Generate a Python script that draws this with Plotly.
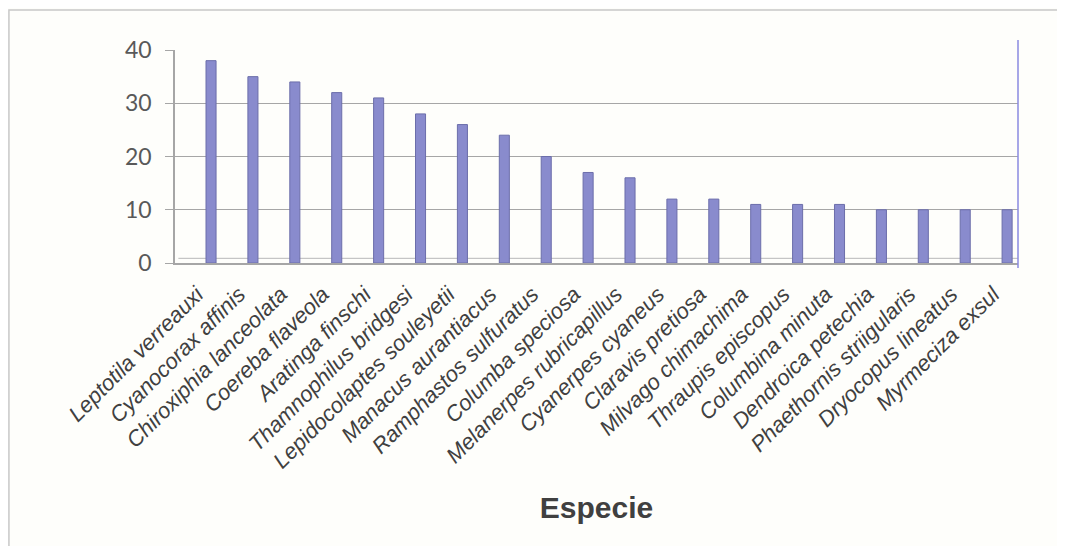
import plotly.graph_objects as go

species = [
    "Leptotila verreauxi", "Cyanocorax affinis", "Chiroxiphia lanceolata",
    "Coereba flaveola", "Aratinga finschi", "Thamnophilus bridgesi",
    "Lepidocolaptes souleyetii", "Manacus aurantiacus", "Ramphastos sulfuratus",
    "Columba speciosa", "Melanerpes rubricapillus", "Cyanerpes cyaneus",
    "Claravis pretiosa", "Milvago chimachima", "Thraupis episcopus",
    "Columbina minuta", "Dendroica petechia", "Phaethornis striigularis",
    "Dryocopus lineatus", "Myrmeciza exsul",
]
counts = [38, 35, 34, 32, 31, 28, 26, 24, 20, 17, 16, 12, 12, 11, 11, 11, 10, 10, 10, 10]
y_ticks = [0, 10, 20, 30, 40]
x_title = "Especie"

fig = go.Figure(
    go.Bar(
        x=species,
        y=counts,
        width=0.24,
        marker=dict(color="#898bcd", line=dict(color="#6c6eaa", width=1)),
    )
)

fig.update_layout(
    width=1057,
    height=538,
    margin=dict(l=167, r=47, t=42, b=283, autoexpand=False),
    paper_bgcolor="#fefefb",
    plot_bgcolor="#fefefb",
    showlegend=False,
    font=dict(family="Liberation Sans, Arial, sans-serif", color="#404040"),
    shapes=[
        dict(type="rect", xref="paper", yref="paper",
             x0=-0.197, x1=1.05, y0=-1.5, y1=1.188,
             line=dict(color="#c8c8c8", width=1.5), fillcolor="rgba(0,0,0,0)",
             layer="below"),
        dict(type="line", xref="paper", yref="paper",
             x0=1.0, x1=1.0, y0=-0.023, y1=1.047,
             line=dict(color="#8a8ae0", width=1.5)),
        dict(type="line", xref="paper", yref="paper",
             x0=0.004, x1=1.0, y0=0.022, y1=0.022,
             line=dict(color="#b8b8b8", width=1), layer="below"),
    ],
)

fig.update_xaxes(
    type="category",
    range=[-0.86, 19.26],
    tickangle=-45,
    tickfont=dict(family="Liberation Sans, Arial, sans-serif", size=22, color="#404040",
                  style="italic"),
    ticklabelshift=-14,
    ticklabelstandoff=8,
    showline=True,
    linecolor="#a6a6a6",
    linewidth=1.5,
    ticks="",
    showgrid=False,
    automargin=False,
    title=dict(text=x_title, font=dict(size=30, color="#404040", weight="bold"),
               standoff=25),
)

fig.update_yaxes(
    range=[0, 40],
    tickvals=y_ticks,
    tickfont=dict(family="Lato, Liberation Sans, sans-serif", size=23, color="#595959"),
    showline=True,
    linecolor="#a6a6a6",
    linewidth=1.5,
    ticks="outside",
    ticklen=8,
    tickcolor="#a6a6a6",
    ticklabelstandoff=9,
    showgrid=True,
    gridcolor="#a6a6a6",
    gridwidth=1.3,
    zeroline=False,
    automargin=False,
)

fig.write_html("out.html")
